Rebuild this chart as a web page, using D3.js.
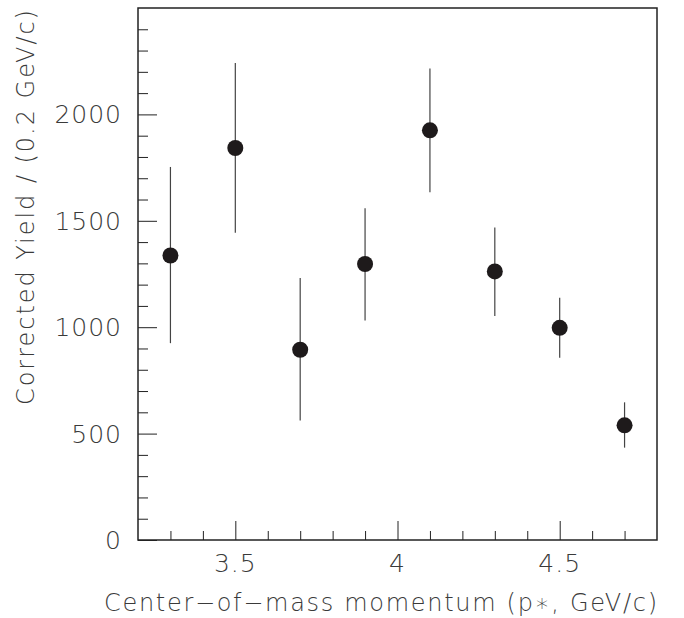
<!DOCTYPE html>
<html>
<head>
<meta charset="utf-8">
<script src="https://cdn.jsdelivr.net/npm/d3@7"></script>
<style>
  body { margin: 0; background: #fff; }
  text { font-family: "DejaVu Sans", "Lato", sans-serif; font-weight: 200; fill: #3a3a3a; }
</style>
</head>
<body>
<div id="chartPlaceholder"></div>
<script>
const momentum = [3.3, 3.5, 3.7, 3.9, 4.1, 4.3, 4.5, 4.7];
const yieldValues = [1337, 1842, 894, 1297, 1925, 1262, 997, 539];
const errLow = [925, 1444, 562, 1031, 1634, 1053, 856, 434];
const errHigh = [1753, 2241, 1231, 1559, 2216, 1469, 1138, 647];
const xMajorTicks = [3.5, 4, 4.5];
const yMajorTicks = [0, 500, 1000, 1500, 2000];

const data = momentum.map((m, i) => ({ x: m, y: yieldValues[i], lo: errLow[i], hi: errHigh[i] }));

// set the dimensions and margins of the graph
const margin = { top: 8, right: 27, bottom: 78, left: 138 },
  width = 684 - margin.left - margin.right,
  height = 618 - margin.top - margin.bottom;

const svg = d3
  .select("#chartPlaceholder")
  .append("svg")
  .attr("width", 684)
  .attr("height", 618)
  .append("g")
  .attr("transform", `translate(${margin.left}, ${margin.top})`);

const x = d3.scaleLinear().domain([3.2, 4.8]).range([0, width]);
const y = d3.scaleLinear().domain([0, 2500]).range([height, 0]);

// minor ticks (inside)
const xMinor = d3.range(3.3, 4.8, 0.1).filter((v) => !xMajorTicks.some((t) => Math.abs(t - v) < 1e-6));
const yMinor = d3.range(100, 2500, 100).filter((v) => v % 500 !== 0);

function tickLayer(axis) {
  svg
    .append("g")
    .call(axis)
    .call((g) => g.select(".domain").remove())
    .selectAll("line")
    .attr("stroke", "#222");
}

tickLayer((g) => g.attr("transform", `translate(0, ${height})`).call(d3.axisTop(x).tickValues(xMinor).tickSize(9).tickFormat("")));
tickLayer((g) => g.attr("transform", `translate(0, ${height})`).call(d3.axisTop(x).tickValues(xMajorTicks).tickSize(19).tickFormat("")));
tickLayer((g) => g.call(d3.axisRight(y).tickValues(yMinor).tickSize(10).tickFormat("")));
tickLayer((g) => g.call(d3.axisRight(y).tickValues(yMajorTicks).tickSize(19).tickFormat("")));

// tick labels
svg
  .selectAll(".xlab")
  .data(xMajorTicks)
  .join("text")
  .attr("x", (d) => x(d))
  .attr("y", height + 32)
  .attr("text-anchor", "middle")
  .style("font-size", "25px")
  .style("letter-spacing", "1px")
  .text((d) => d3.format("")(d));

svg
  .selectAll(".ylab")
  .data(yMajorTicks)
  .join("text")
  .attr("x", -16)
  .attr("y", (d) => y(d))
  .attr("dy", "0.36em")
  .attr("text-anchor", "end")
  .style("font-size", "25px")
  .style("letter-spacing", "1px")
  .text((d) => d);

// frame
svg
  .append("rect")
  .attr("width", width)
  .attr("height", height)
  .attr("fill", "none")
  .attr("stroke", "#222")
  .attr("stroke-width", 1.5);

// axis titles
svg
  .append("text")
  .attr("x", width - 553)
  .attr("y", height + 71)
  .attr("textLength", 553)
  .attr("lengthAdjust", "spacing")
  .style("font-size", "24px")
  .text("Center\u2212of\u2212mass momentum (p\u2217, GeV/c)");

svg
  .append("text")
  .attr("transform", `translate(${-104}, 397) rotate(-90)`)
  .attr("textLength", 395)
  .attr("lengthAdjust", "spacing")
  .style("font-size", "24px")
  .text("Corrected Yield  / (0.2 GeV/c)");

// error bars
svg
  .selectAll(".err")
  .data(data)
  .join("line")
  .attr("x1", (d) => x(d.x))
  .attr("x2", (d) => x(d.x))
  .attr("y1", (d) => y(d.lo))
  .attr("y2", (d) => y(d.hi))
  .attr("stroke", "#444")
  .attr("stroke-width", 1.2);

// points
svg
  .selectAll(".pt")
  .data(data)
  .join("circle")
  .attr("cx", (d) => x(d.x))
  .attr("cy", (d) => y(d.y))
  .attr("r", 8)
  .attr("fill", "#1e1a1b");
</script>
</body>
</html>
